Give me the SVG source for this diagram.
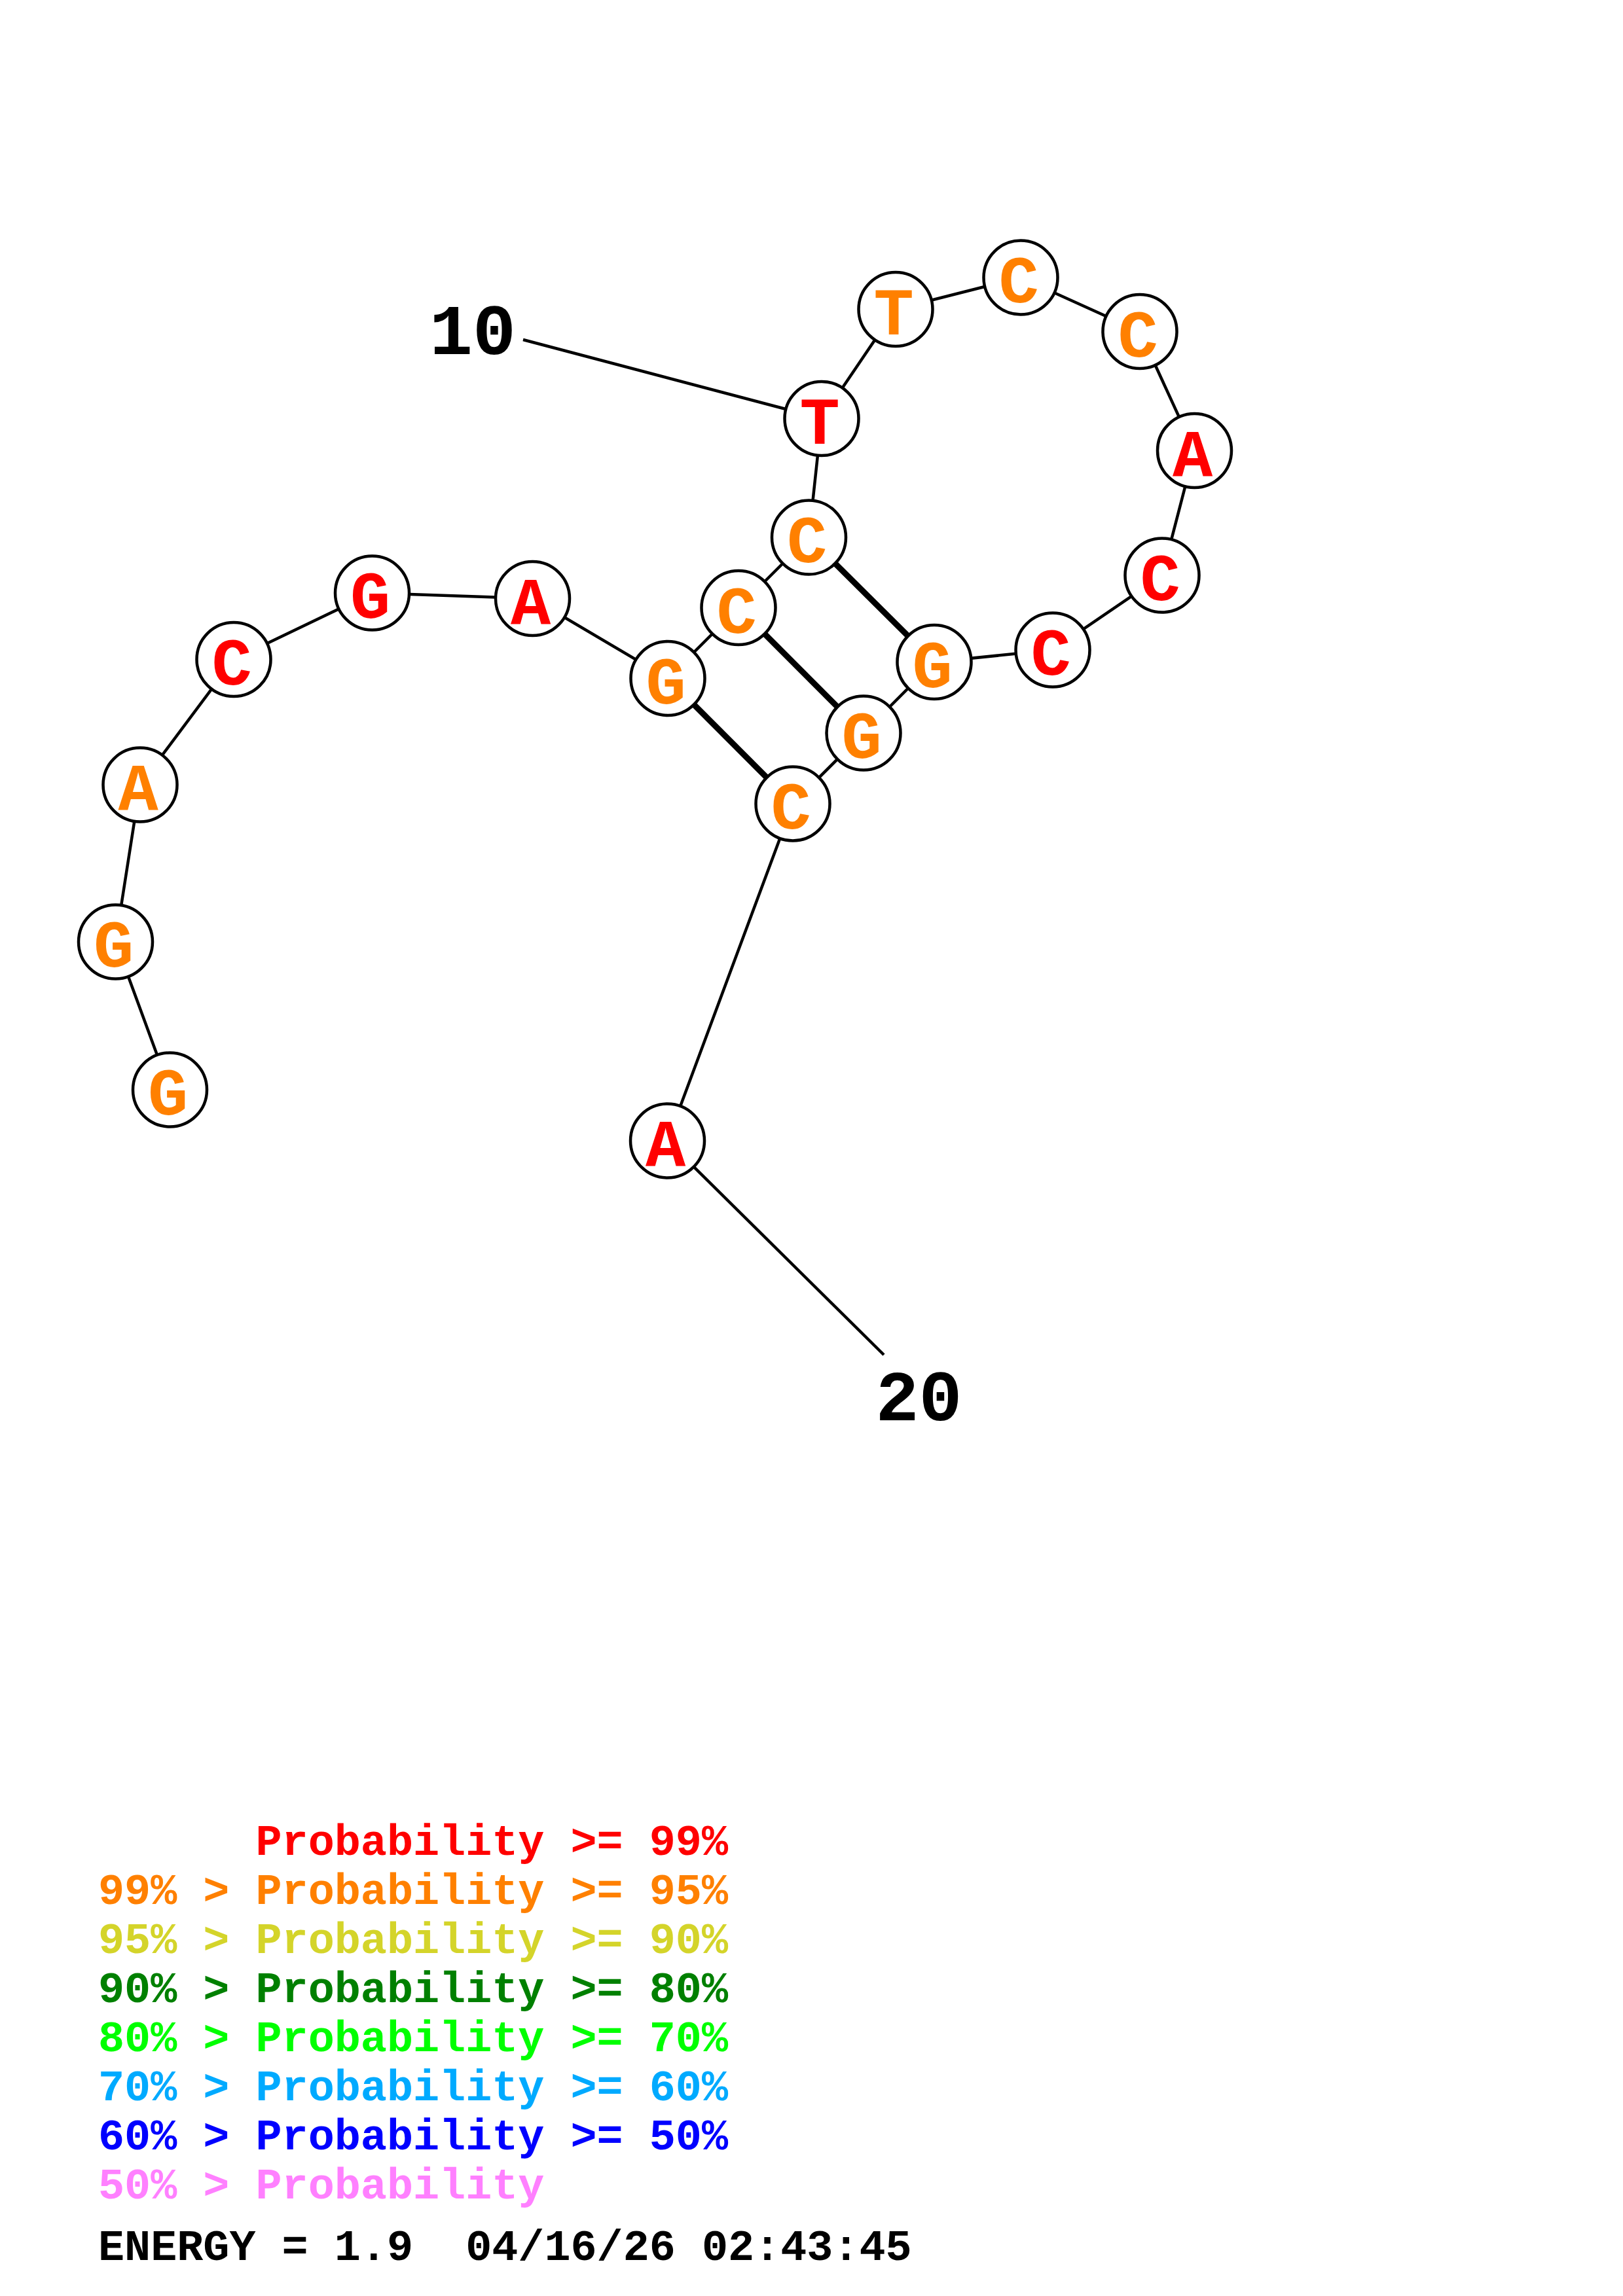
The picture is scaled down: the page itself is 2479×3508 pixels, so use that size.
<svg xmlns="http://www.w3.org/2000/svg" width="2479" height="3508" viewBox="0 0 2479 3508">
<style>
.bb{stroke:#000;stroke-width:4.5;fill:none}
.pr{stroke:#000;stroke-width:9;fill:none}
.nc{fill:#fff;stroke:#000;stroke-width:4.5}
.nt{font-family:"Liberation Mono","DejaVu Sans Mono",monospace;font-weight:bold;font-size:102px;text-anchor:middle}
.o{fill:#FF8000}
.r{fill:#FF0000}
.lbl{font-family:"Liberation Mono","DejaVu Sans Mono",monospace;font-weight:bold;font-size:110px;text-anchor:middle;fill:#000}
.lg{font-family:"Liberation Mono","DejaVu Sans Mono",monospace;font-weight:bold;font-size:66.8px;white-space:pre}
</style>
<rect width="2479" height="3508" fill="#fff"/>
<g id="connectors">
<polyline class="bb" points="259.5,1665 176.5,1439 214,1199 357,1007.5 568.5,906 813.5,914.5 1020,1036.5 1128,928.5 1235.5,821 1255,639.5 1368,472.5 1559,424 1741,506.5 1824.5,688.5 1775,879 1608,993 1427,1011.5 1319,1120 1211,1228 1019.5,1743"/>
<line class="bb" x1="799" y1="519" x2="1255" y2="639.5"/>
<line class="bb" x1="1019.5" y1="1743" x2="1350" y2="2070"/>
<line class="pr" x1="1020" y1="1036.5" x2="1211" y2="1228"/>
<line class="pr" x1="1128" y1="928.5" x2="1319" y2="1120"/>
<line class="pr" x1="1235.5" y1="821" x2="1427" y2="1011.5"/>
</g>
<g id="n1"><circle class="nc" cx="259.5" cy="1665" r="56.5"/><text class="nt o" x="256.5" y="1703">G</text></g>
<g id="n2"><circle class="nc" cx="176.5" cy="1439" r="56.5"/><text class="nt o" x="173.5" y="1477">G</text></g>
<g id="n3"><circle class="nc" cx="214" cy="1199" r="56.5"/><text class="nt o" x="211" y="1237">A</text></g>
<g id="n4"><circle class="nc" cx="357" cy="1007.5" r="56.5"/><text class="nt r" x="354" y="1045.5">C</text></g>
<g id="n5"><circle class="nc" cx="568.5" cy="906" r="56.5"/><text class="nt r" x="565.5" y="944">G</text></g>
<g id="n6"><circle class="nc" cx="813.5" cy="914.5" r="56.5"/><text class="nt r" x="810.5" y="952.5">A</text></g>
<g id="n7"><circle class="nc" cx="1020" cy="1036.5" r="56.5"/><text class="nt o" x="1017" y="1074.5">G</text></g>
<g id="n8"><circle class="nc" cx="1128" cy="928.5" r="56.5"/><text class="nt o" x="1125" y="966.5">C</text></g>
<g id="n9"><circle class="nc" cx="1235.5" cy="821" r="56.5"/><text class="nt o" x="1232.5" y="859">C</text></g>
<g id="n10"><circle class="nc" cx="1255" cy="639.5" r="56.5"/><text class="nt r" x="1252" y="677.5">T</text></g>
<g id="n11"><circle class="nc" cx="1368" cy="472.5" r="56.5"/><text class="nt o" x="1365" y="510.5">T</text></g>
<g id="n12"><circle class="nc" cx="1559" cy="424" r="56.5"/><text class="nt o" x="1556" y="462">C</text></g>
<g id="n13"><circle class="nc" cx="1741" cy="506.5" r="56.5"/><text class="nt o" x="1738" y="544.5">C</text></g>
<g id="n14"><circle class="nc" cx="1824.5" cy="688.5" r="56.5"/><text class="nt r" x="1821.5" y="726.5">A</text></g>
<g id="n15"><circle class="nc" cx="1775" cy="879" r="56.5"/><text class="nt r" x="1772" y="917">C</text></g>
<g id="n16"><circle class="nc" cx="1608" cy="993" r="56.5"/><text class="nt r" x="1605" y="1031">C</text></g>
<g id="n17"><circle class="nc" cx="1427" cy="1011.5" r="56.5"/><text class="nt o" x="1424" y="1049.5">G</text></g>
<g id="n18"><circle class="nc" cx="1319" cy="1120" r="56.5"/><text class="nt o" x="1316" y="1158">G</text></g>
<g id="n19"><circle class="nc" cx="1211" cy="1228" r="56.5"/><text class="nt o" x="1208" y="1266">C</text></g>
<g id="n20"><circle class="nc" cx="1019.5" cy="1743" r="56.5"/><text class="nt r" x="1016.5" y="1781">A</text></g>
<g id="labels">
<text class="lbl" x="722" y="540.7">10</text>
<text class="lbl" x="1403.5" y="2170">20</text>
</g>
<g id="legend">
<text class="lg" x="390.5" y="2833.7" fill="#FF0000">Probability &gt;= 99%</text>
<text class="lg" x="150" y="2908.7" fill="#FF8000">99% &gt; Probability &gt;= 95%</text>
<text class="lg" x="150" y="2983.7" fill="#D4D42A">95% &gt; Probability &gt;= 90%</text>
<text class="lg" x="150" y="3058.7" fill="#008000">90% &gt; Probability &gt;= 80%</text>
<text class="lg" x="150" y="3133.7" fill="#00FF00">80% &gt; Probability &gt;= 70%</text>
<text class="lg" x="150" y="3208.7" fill="#00AAFF">70% &gt; Probability &gt;= 60%</text>
<text class="lg" x="150" y="3283.7" fill="#0000FF">60% &gt; Probability &gt;= 50%</text>
<text class="lg" x="150" y="3358.7" fill="#FF80FF">50% &gt; Probability</text>
<text class="lg" x="150" y="3452.9" fill="#000000">ENERGY = 1.9  04/16/26 02:43:45</text>
</g>
</svg>
